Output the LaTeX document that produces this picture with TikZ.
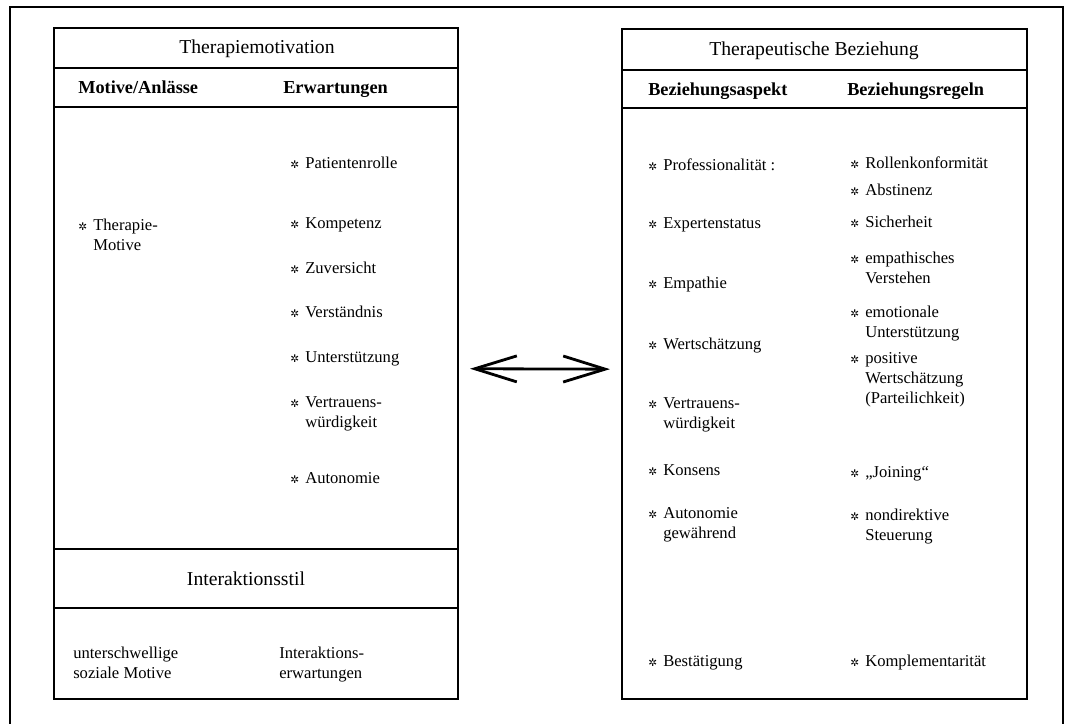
\documentclass[tikz,border=0pt]{standalone}
\usepackage{fontspec}
\setmainfont{Liberation Serif}
\newfontfamily\symfont{DejaVu Sans}
\usetikzlibrary{arrows.meta}
\newcommand{\bul}{\llap{{\symfont\fontsize{7.5}{7.5}\selectfont ✲}\hspace{1.5mm}}}
\newcommand{\lines}[1]{\begin{tabular}[t]{@{}l@{}}#1\end{tabular}}

\begin{document}
\begin{tikzpicture}[x=0.025cm, y=-0.025cm,
  panel/.style={draw, line width=1.1pt, inner sep=0pt, outer sep=0pt},
  rule/.style={line width=1.1pt},
  title/.style={anchor=base, inner sep=0pt, font=\fontsize{14}{16}\selectfont},
  colhead/.style={anchor=base west, inner sep=0pt, font=\fontsize{13}{15}\selectfont\bfseries},
  item/.style={anchor=base west, inner sep=0pt, font=\fontsize{11.8}{14.5}\selectfont},
  dblarr/.style={{Straight Barb[length=1.05cm, width=0.65cm]}-{Straight Barb[length=1.05cm, width=0.65cm]},
                 line width=2pt, shorten <=0.3cm, shorten >=0.3cm}]
\useasboundingbox (0,0) rectangle (1067,724);
\draw[line width=0.9pt] (10,724) -- (10,7) -- (1063,7) -- (1063,724);

% left panel
\node[panel, minimum width=10.1cm, minimum height=16.775cm] (motiv) at (256,363.5) {};
\draw[rule] (motiv.west |- 0,68) -- (motiv.east |- 0,68);
\draw[rule] (motiv.west |- 0,107) -- (motiv.east |- 0,107);
\draw[rule] (motiv.west |- 0,549) -- (motiv.east |- 0,549);
\draw[rule] (motiv.west |- 0,608) -- (motiv.east |- 0,608);
\node[title] (motivtitle) at (257,53) {Therapiemotivation};
\node[colhead] (anlass) at (78,93) {Motive/Anlässe};
\node[colhead] (erwart) at (283,93) {Erwartungen};
\node[item] (thmot) at (93,230) {\lines{\bul Therapie-\\Motive}};
\node[item] (patrolle) at (305,168) {\bul Patientenrolle};
\node[item] (kompet) at (305,228) {\bul Kompetenz};
\node[item] (zuvers) at (305,273) {\bul Zuversicht};
\node[item] (verst) at (305,317) {\bul Verständnis};
\node[item] (unterst) at (305,362) {\bul Unterstützung};
\node[item] (vertr) at (305,407) {\lines{\bul Vertrauens-\\würdigkeit}};
\node[item] (auton) at (305,483) {\bul Autonomie};
\node[title] (interstil) at (246,585) {Interaktionsstil};
\node[item] (unterschw) at (73,658) {\lines{unterschwellige\\soziale Motive}};
\node[item] (intererw) at (279,658) {\lines{Interaktions-\\erwartungen}};

% right panel
\node[panel, minimum width=10.125cm, minimum height=16.75cm] (bez) at (824.5,364) {};
\draw[rule] (bez.west |- 0,70) -- (bez.east |- 0,70);
\draw[rule] (bez.west |- 0,108) -- (bez.east |- 0,108);
\node[title] (beztitle) at (814,55) {Therapeutische Beziehung};
\node[colhead] (aspekt) at (648,95) {Beziehungsaspekt};
\node[colhead] (regeln) at (847,95) {Beziehungsregeln};
\node[item] (prof) at (663,170) {\bul Professionalität :};
\node[item] (expert) at (663,228) {\bul Expertenstatus};
\node[item] (empath) at (663,288) {\bul Empathie};
\node[item] (wertsch) at (663,349) {\bul Wertschätzung};
\node[item] (vertrb) at (663,408) {\lines{\bul Vertrauens-\\würdigkeit}};
\node[item] (konsens) at (663,475) {\bul Konsens};
\node[item] (autgew) at (663,518) {\lines{\bul Autonomie\\gewährend}};
\node[item] (bestaet) at (663,666) {\bul Bestätigung};
\node[item] (rollen) at (865,168) {\bul Rollenkonformität};
\node[item] (abstin) at (865,195) {\bul Abstinenz};
\node[item] (sicher) at (865,227) {\bul Sicherheit};
\node[item] (empverst) at (865,263) {\lines{\bul empathisches\\Verstehen}};
\node[item] (emount) at (865,317) {\lines{\bul emotionale\\Unterstützung}};
\node[item] (poswert) at (865,363) {\lines{\bul positive\\Wertschätzung\\(Parteilichkeit)}};
\node[item] (joining) at (865,477) {\bul „Joining“};
\node[item] (nondir) at (865,520) {\lines{\bul nondirektive\\Steuerung}};
\node[item] (kompl) at (865,666) {\bul Komplementarität};

\draw[dblarr] ([yshift=-0.13cm]motiv.east) -- ([yshift=-0.13cm]bez.west);
\end{tikzpicture}
\end{document}
